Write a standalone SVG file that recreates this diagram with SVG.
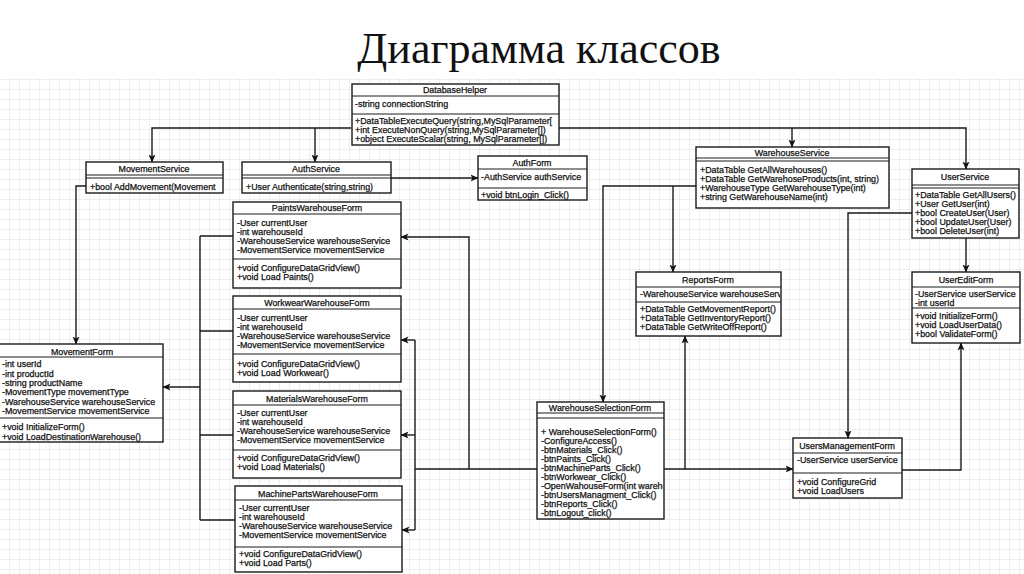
<svg xmlns="http://www.w3.org/2000/svg" width="1024" height="574" viewBox="0 0 1024 574">
<style>
.box{fill:#fff;stroke:#1a1a1a;stroke-width:1.4}
.sep{stroke:#1a1a1a;stroke-width:1}
.h{font-family:"Liberation Sans",Arial,sans-serif;font-size:8.9px;fill:#111;stroke:#111;stroke-width:0.25;text-anchor:middle}
.t{font-family:"Liberation Sans",Arial,sans-serif;font-size:8.9px;fill:#111;stroke:#111;stroke-width:0.25}
.c{fill:none;stroke:#1a1a1a;stroke-width:1.4}
.title{font-family:"Liberation Serif","Times New Roman",serif;font-size:44px;fill:#111;text-anchor:middle}
</style>
<defs>
<pattern id="grid" width="10" height="10" patternUnits="userSpaceOnUse">
<path d="M10,0 V10 M0,10 H10" fill="none" stroke="#dedede" stroke-width="1"/>
</pattern>
<marker id="ar" markerWidth="8" markerHeight="8" refX="7.5" refY="4" orient="auto" markerUnits="userSpaceOnUse">
<path d="M0,0.5 L8,4 L0,7.5 L2,4 z" fill="#111"/>
</marker>
<clipPath id="cDB"><rect x="352" y="84" width="206" height="61"/></clipPath>
<clipPath id="cMS"><rect x="86" y="162" width="136" height="31"/></clipPath>
<clipPath id="cRF"><rect x="636" y="272" width="144" height="64"/></clipPath>
<clipPath id="cWSF"><rect x="537" y="402" width="126" height="117"/></clipPath>
</defs>
<rect width="1024" height="574" fill="#fff"/>
<rect x="0" y="78" width="1024" height="496" fill="url(#grid)"/>
<text class="title" x="539" y="63">Диаграмма классов</text>

<g id="connectors">
<path class="c" d="M351,128 H152 V162" marker-end="url(#ar)"/>
<path class="c" d="M315,128 V162" marker-end="url(#ar)"/>
<path class="c" d="M559,128 H966 V169" marker-end="url(#ar)"/>
<path class="c" d="M792,128 V147" marker-end="url(#ar)"/>
<path class="c" d="M86,186 H76 V344" marker-end="url(#ar)"/>
<path class="c" d="M391,178 H478" marker-end="url(#ar)"/>
<path class="c" d="M696,186 H603 V402" marker-end="url(#ar)"/>
<path class="c" d="M673,186 V272" marker-end="url(#ar)"/>
<path class="c" d="M200,236 V520 M200,236 H233 M200,331 H233 M200,435 H233 M200,520 H235"/>
<path class="c" d="M200,387 H163" marker-end="url(#ar)"/>
<path class="c" d="M469,469 V237 H401" marker-end="url(#ar)"/>
<path class="c" d="M415,530 V340 M415,469 H537"/>
<path class="c" d="M415,340 H401" marker-end="url(#ar)"/>
<path class="c" d="M415,435 H401" marker-end="url(#ar)"/>
<path class="c" d="M415,530 H402" marker-end="url(#ar)"/>
<path class="c" d="M664,469 H793" marker-end="url(#ar)"/>
<path class="c" d="M685,469 V336" marker-end="url(#ar)"/>
<path class="c" d="M912,213 H848 V438" marker-end="url(#ar)"/>
<path class="c" d="M966,238 V272" marker-end="url(#ar)"/>
<path class="c" d="M902,470 H961 V343" marker-end="url(#ar)"/>
</g>

<g id="DatabaseHelper">
<rect class="box" x="352" y="84" width="207" height="61"/>
<line class="sep" x1="352" y1="96" x2="559" y2="96"/>
<line class="sep" x1="352" y1="114" x2="559" y2="114"/>
<text class="h" x="455" y="93">DatabaseHelper</text>
<g clip-path="url(#cDB)">
<text class="t" x="355" y="107">-string connectionString</text>
<text class="t" x="355" y="124">+DataTableExecuteQuery(string,MySqlParameter[</text>
<text class="t" x="355" y="133">+int ExecuteNonQuery(string,MySqlParameter[])</text>
<text class="t" x="355" y="142">+object ExecuteScalar(string, MySqlParameter[])</text>
</g>
</g>

<g id="MovementService">
<rect class="box" x="86" y="162" width="137" height="31"/>
<line class="sep" x1="86" y1="175" x2="223" y2="175"/>
<line class="sep" x1="86" y1="178" x2="223" y2="178"/>
<text class="h" x="154" y="172">MovementService</text>
<g clip-path="url(#cMS)"><text class="t" x="90" y="190">+bool AddMovement(Movement</text></g>
</g>

<g id="AuthService">
<rect class="box" x="242" y="162" width="149" height="31"/>
<line class="sep" x1="242" y1="175" x2="391" y2="175"/>
<line class="sep" x1="242" y1="178" x2="391" y2="178"/>
<text class="h" x="316" y="172">AuthService</text>
<text class="t" x="246" y="190">+User Authenticate(string,string)</text>
</g>

<g id="AuthForm">
<rect class="box" x="478" y="156" width="109" height="44"/>
<line class="sep" x1="478" y1="169" x2="587" y2="169"/>
<line class="sep" x1="478" y1="188" x2="587" y2="188"/>
<text class="h" x="532" y="166">AuthForm</text>
<text class="t" x="481" y="180">-AuthService authService</text>
<text class="t" x="481" y="198">+void btnLogin_Click()</text>
</g>

<g id="WarehouseService">
<rect class="box" x="696" y="147" width="193" height="61"/>
<line class="sep" x1="696" y1="158" x2="889" y2="158"/>
<line class="sep" x1="696" y1="161" x2="889" y2="161"/>
<text class="h" x="792" y="156">WarehouseService</text>
<text class="t" x="700" y="173">+DataTable GetAllWarehouses()</text>
<text class="t" x="700" y="182">+DataTable GetWarehoseProducts(int, string)</text>
<text class="t" x="700" y="191">+WarehouseType GetWarehouseType(int)</text>
<text class="t" x="700" y="200">+string GetWarehouseName(int)</text>
</g>

<g id="UserService">
<rect class="box" x="912" y="169" width="107" height="69"/>
<line class="sep" x1="912" y1="185" x2="1019" y2="185"/>
<line class="sep" x1="912" y1="188" x2="1019" y2="188"/>
<text class="h" x="965" y="180">UserService</text>
<text class="t" x="915" y="198">+DataTable GetAllUsers()</text>
<text class="t" x="915" y="207">+User GetUser(int)</text>
<text class="t" x="915" y="216">+bool CreateUser(User)</text>
<text class="t" x="915" y="225">+bool UpdateUser(User)</text>
<text class="t" x="915" y="234">+bool DeleteUser(int)</text>
</g>

<g id="PaintsWarehouseForm">
<rect class="box" x="233" y="202" width="168" height="86"/>
<line class="sep" x1="233" y1="214" x2="401" y2="214"/>
<line class="sep" x1="233" y1="259" x2="401" y2="259"/>
<text class="h" x="317" y="211">PaintsWarehouseForm</text>
<text class="t" x="237" y="226">-User currentUser</text>
<text class="t" x="237" y="235">-int warehouseId</text>
<text class="t" x="237" y="244">-WarehouseService warehouseService</text>
<text class="t" x="237" y="253">-MovementService movementService</text>
<text class="t" x="237" y="271">+void ConfigureDataGridView()</text>
<text class="t" x="237" y="280">+void Load Paints()</text>
</g>

<g id="WorkwearWarehouseForm">
<rect class="box" x="233" y="296" width="168" height="86"/>
<line class="sep" x1="233" y1="309" x2="401" y2="309"/>
<line class="sep" x1="233" y1="354" x2="401" y2="354"/>
<text class="h" x="317" y="306">WorkwearWarehouseForm</text>
<text class="t" x="237" y="321">-User currentUser</text>
<text class="t" x="237" y="330">-int warehouseId</text>
<text class="t" x="237" y="339">-WarehouseService warehouseService</text>
<text class="t" x="237" y="348">-MovementService movementService</text>
<text class="t" x="237" y="367">+void ConfigureDataGridView()</text>
<text class="t" x="237" y="376">+void Load Workwear()</text>
</g>

<g id="MaterialsWarehouseForm">
<rect class="box" x="233" y="391" width="168" height="87"/>
<line class="sep" x1="233" y1="405" x2="401" y2="405"/>
<line class="sep" x1="233" y1="450" x2="401" y2="450"/>
<text class="h" x="317" y="402">MaterialsWarehouseForm</text>
<text class="t" x="237" y="416">-User currentUser</text>
<text class="t" x="237" y="425">-int warehouseId</text>
<text class="t" x="237" y="434">-WarehouseService warehouseService</text>
<text class="t" x="237" y="443">-MovementService movementService</text>
<text class="t" x="237" y="461">+void ConfigureDataGridView()</text>
<text class="t" x="237" y="470">+void Load Materials()</text>
</g>

<g id="MachinePartsWarehouseForm">
<rect class="box" x="235" y="486" width="167" height="86"/>
<line class="sep" x1="235" y1="500" x2="402" y2="500"/>
<line class="sep" x1="235" y1="547" x2="402" y2="547"/>
<text class="h" x="318" y="497">MachinePartsWarehouseForm</text>
<text class="t" x="239" y="511">-User currentUser</text>
<text class="t" x="239" y="520">-int warehouseId</text>
<text class="t" x="239" y="529">-WarehouseService warehouseService</text>
<text class="t" x="239" y="538">-MovementService movementService</text>
<text class="t" x="239" y="557">+void ConfigureDataGridView()</text>
<text class="t" x="239" y="566">+void Load Parts()</text>
</g>

<g id="MovementForm">
<rect class="box" x="-1" y="344" width="164" height="98"/>
<line class="sep" x1="0" y1="357" x2="163" y2="357"/>
<line class="sep" x1="0" y1="418" x2="163" y2="418"/>
<text class="h" x="82" y="355">MovementForm</text>
<text class="t" x="2" y="367">-int userId</text>
<text class="t" x="2" y="377">-int productId</text>
<text class="t" x="2" y="386">-string productName</text>
<text class="t" x="2" y="395">-MovementType movementType</text>
<text class="t" x="2" y="405">-WarehouseService warehouseService</text>
<text class="t" x="2" y="414">-MovementService movementService</text>
<text class="t" x="2" y="430">+void InitializeForm()</text>
<text class="t" x="2" y="440">+void LoadDestinationWarehouse()</text>
</g>

<g id="ReportsForm">
<rect class="box" x="636" y="272" width="145" height="64"/>
<line class="sep" x1="636" y1="287" x2="781" y2="287"/>
<line class="sep" x1="636" y1="302" x2="781" y2="302"/>
<text class="h" x="708" y="283">ReportsForm</text>
<g clip-path="url(#cRF)">
<text class="t" x="640" y="297">-WarehouseService warehouseService</text>
</g>
<text class="t" x="640" y="312">+DataTable GetMovementReport()</text>
<text class="t" x="640" y="321">+DataTable GetInventoryReport()</text>
<text class="t" x="640" y="330">+DataTable GetWriteOffReport()</text>
</g>

<g id="WarehouseSelectionForm">
<rect class="box" x="537" y="402" width="127" height="117"/>
<line class="sep" x1="537" y1="413" x2="664" y2="413"/>
<line class="sep" x1="537" y1="418" x2="664" y2="418"/>
<text class="h" x="600" y="411">WarehouseSelectionForm</text>
<g clip-path="url(#cWSF)">
<text class="t" x="541" y="435">+ WarehouseSelectionForm()</text>
<text class="t" x="541" y="444">-ConfigureAccess()</text>
<text class="t" x="541" y="453">-btnMaterials_Click()</text>
<text class="t" x="541" y="462">-btnPaints_Click()</text>
<text class="t" x="541" y="471">-btnMachineParts_Click()</text>
<text class="t" x="541" y="480">-btnWorkwear_Click()</text>
<text class="t" x="541" y="489">-OpenWahouseForm(int warehouseId)</text>
<text class="t" x="541" y="498">-btnUsersManagment_Click()</text>
<text class="t" x="541" y="507">-btnReports_Click()</text>
<text class="t" x="541" y="516">-btnLogout_click()</text>
</g>
</g>

<g id="UserEditForm">
<rect class="box" x="912" y="272" width="108" height="71"/>
<line class="sep" x1="912" y1="287" x2="1020" y2="287"/>
<line class="sep" x1="912" y1="308" x2="1020" y2="308"/>
<text class="h" x="966" y="283">UserEditForm</text>
<text class="t" x="915" y="297">-UserService userService</text>
<text class="t" x="915" y="306">-int userId</text>
<text class="t" x="915" y="319">+void InitializeForm()</text>
<text class="t" x="915" y="328">+void LoadUserData()</text>
<text class="t" x="915" y="337">+bool ValidateForm()</text>
</g>

<g id="UsersManagementForm">
<rect class="box" x="793" y="438" width="109" height="60"/>
<line class="sep" x1="793" y1="453" x2="902" y2="453"/>
<line class="sep" x1="793" y1="473" x2="902" y2="473"/>
<text class="h" x="847" y="449">UsersManagementForm</text>
<text class="t" x="797" y="463">-UserService userService</text>
<text class="t" x="797" y="485">+void ConfigureGrid</text>
<text class="t" x="797" y="494">+void LoadUsers</text>
</g>
</svg>
